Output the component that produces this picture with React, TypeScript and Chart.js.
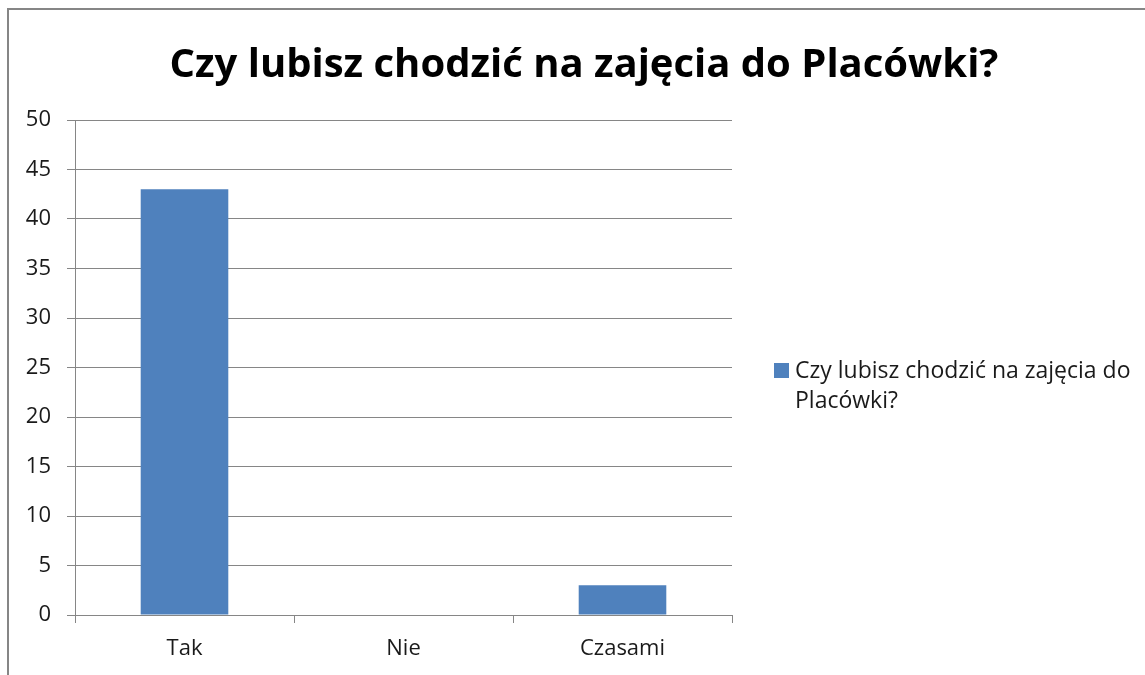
import React, { useEffect, useRef } from "react";
import { Chart, registerables } from "chart.js";

Chart.register(...registerables);

const TITLE = "Czy lubisz chodzić na zajęcia do Placówki?";
const SERIES_LABEL = "Czy lubisz chodzić na zajęcia do Placówki?";
const LEGEND_LINES = ["Czy lubisz chodzić na zajęcia do", "Placówki?"];
const CATEGORIES = ["Tak", "Nie", "Czasami"];
const VALUES = [43, 0, 3];
const Y_MIN = 0;
const Y_MAX = 50;
const Y_STEP = 5;

const BAR_COLOR = "#4f81bd";
const GRID_COLOR = "#868686";
const TEXT_COLOR = "#1a1a1a";
const FONT = "'Open Sans', 'Noto Sans', sans-serif";

const decor = {
  id: "decor",
  beforeDraw(chart: any) {
    const ctx = chart.ctx as CanvasRenderingContext2D;
    ctx.save();
    ctx.fillStyle = "#ffffff";
    ctx.fillRect(0, 0, chart.width, chart.height);
    ctx.strokeStyle = GRID_COLOR;
    ctx.lineWidth = 2;
    ctx.strokeRect(8, 9, chart.width + 100, chart.height + 100);
    ctx.restore();
  },
  afterDraw(chart: any) {
    const ctx = chart.ctx as CanvasRenderingContext2D;
    ctx.save();
    // title
    ctx.fillStyle = "#000000";
    ctx.font = `bold 40px ${FONT}`;
    ctx.textAlign = "center";
    ctx.textBaseline = "middle";
    ctx.fillText(TITLE, 584, 66);
    // legend
    const sx = 774;
    const sy = 363;
    ctx.fillStyle = BAR_COLOR;
    ctx.fillRect(sx, sy, 15, 15);
    ctx.fillStyle = TEXT_COLOR;
    ctx.font = `23px ${FONT}`;
    ctx.textAlign = "left";
    ctx.textBaseline = "middle";
    LEGEND_LINES.forEach((line, i) => {
      ctx.fillText(line, sx + 21, sy + 8 + i * 30);
    });
    ctx.restore();
  },
};

export default function App() {
  const ref = useRef<HTMLCanvasElement | null>(null);

  useEffect(() => {
    if (!ref.current) return;
    const chart = new Chart(ref.current, {
      type: "bar",
      data: {
        labels: CATEGORIES,
        datasets: [
          {
            label: SERIES_LABEL,
            data: VALUES,
            backgroundColor: BAR_COLOR,
            borderWidth: 0,
            barPercentage: 0.4,
            categoryPercentage: 1,
          },
        ],
      },
      options: {
        animation: false,
        responsive: false,
        devicePixelRatio: 1,
        layout: { padding: { left: 0, right: 413, top: 120, bottom: 0 } },
        plugins: {
          legend: { display: false },
          title: { display: false },
          tooltip: { enabled: false },
        },
        scales: {
          x: {
            afterFit: (s: any) => {
              s.height = 60;
            },
            grid: {
              display: true,
              drawOnChartArea: false,
              drawTicks: true,
              tickLength: 8,
              color: GRID_COLOR,
              offset: true,
            },
            border: { display: true, color: GRID_COLOR, width: 1 },
            ticks: {
              color: TEXT_COLOR,
              font: { family: FONT, size: 22 },
              padding: 13,
            },
          },
          y: {
            min: Y_MIN,
            max: Y_MAX,
            afterFit: (s: any) => {
              s.width = 75;
            },
            grid: {
              color: GRID_COLOR,
              tickLength: 8,
              drawTicks: true,
            },
            border: { display: true, color: GRID_COLOR, width: 1 },
            ticks: {
              stepSize: Y_STEP,
              color: TEXT_COLOR,
              font: { family: FONT, size: 22 },
              padding: 16,
            },
          },
        },
      },
      plugins: [decor],
    });
    return () => chart.destroy();
  }, []);

  return (
    <div style={{ position: "fixed", left: 0, top: 0, width: 1145, height: 675, overflow: "hidden" }}>
      <canvas ref={ref} width={1145} height={675} style={{ display: "block" }} />
    </div>
  );
}
